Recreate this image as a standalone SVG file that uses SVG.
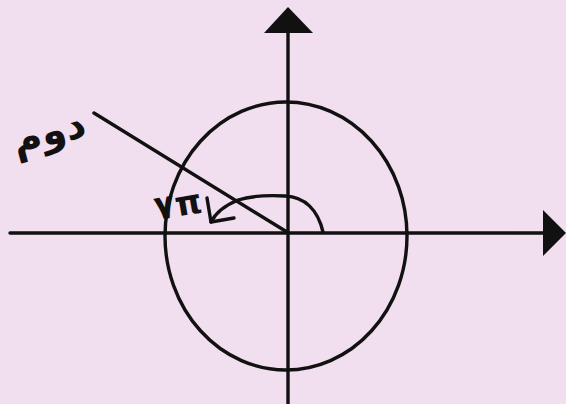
<svg xmlns="http://www.w3.org/2000/svg" width="566" height="404" viewBox="0 0 566 404">
<style>
.ln{fill:none;stroke:#111;stroke-width:3.4;stroke-linecap:round;stroke-linejoin:round}
.ah{fill:#111;stroke:none}
.lbl{font-family:"DejaVu Sans","Noto Sans",sans-serif;fill:#111;font-weight:bold}
</style>
<rect width="566" height="404" fill="#f1deee"/>
<g id="axes">
<line class="ln" x1="10" y1="233" x2="546" y2="233"/>
<polygon class="ah" points="543,210 566,233 543,256"/>
<line class="ln" x1="288" y1="30" x2="288" y2="404"/>
<polygon class="ah" points="288,7 264,33 313,33"/>
</g>
<g id="circle">
<ellipse class="ln" cx="286" cy="236" rx="121" ry="134"/>
</g>
<g id="connectors">
<line class="ln" x1="94" y1="113" x2="287" y2="232"/>
<path class="ln" d="M323,232 C318,210 305,197 285,196 C265,195 250,196 238,200 C226,205 216,212 211,222"/>
<path class="ln" d="M207,198 L211,222 L234,218"/>
</g>
<g id="label-dovom">
<text class="lbl" x="52" y="145" font-size="40" text-anchor="middle" transform="rotate(-15 52 145)">دوم</text>
</g>
<g id="label-angle">
<text class="lbl" x="180" y="216" font-size="34" text-anchor="middle" transform="rotate(-10 180 216)">۷π</text>
</g>
</svg>
